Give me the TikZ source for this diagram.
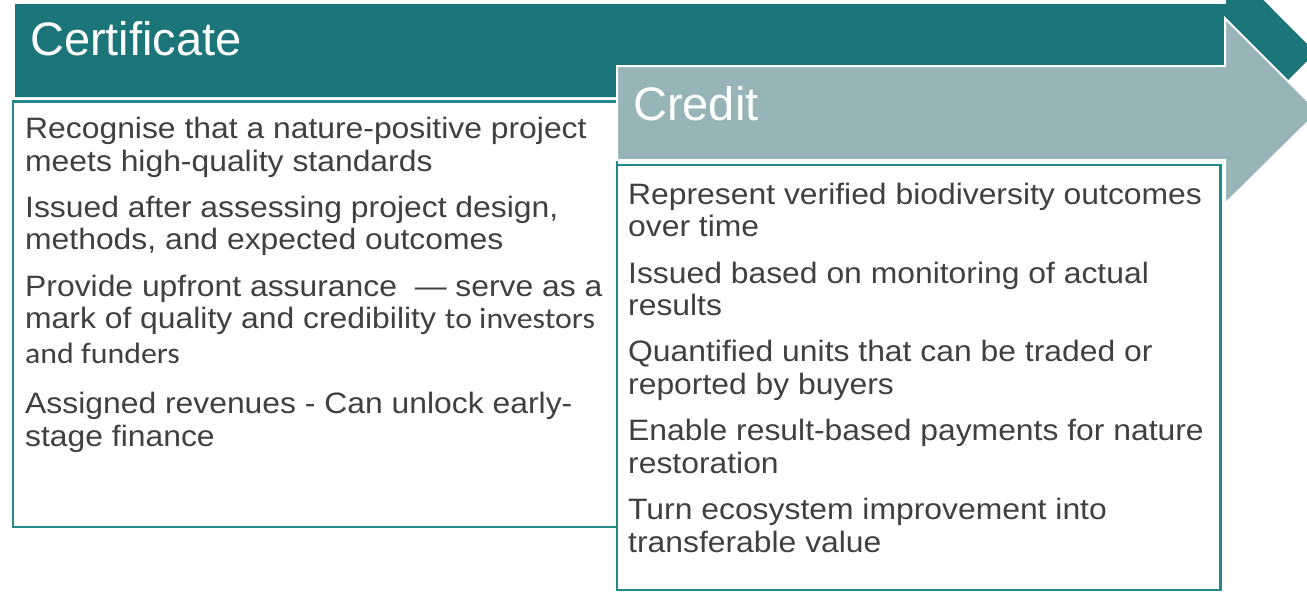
\documentclass[tikz,border=0pt]{standalone}
\usepackage{fontspec}
\setmainfont{Liberation Sans}
\newfontfamily\bodyfont[FakeStretch=1.08]{Liberation Sans}
\newfontfamily\calfont[FakeStretch=1.08]{Carlito}
\definecolor{darkteal}{HTML}{1B7579}
\definecolor{lightteal}{HTML}{97B5B8}
\definecolor{boxline}{HTML}{22898C}
\definecolor{bodytext}{HTML}{404040}
\newcommand{\itemlines}[1]{\vtop{\baselineskip=32.7pt\lineskiplimit=-100pt\halign{##\hfil\cr#1\crcr}}}
\tikzset{
  titletext/.style={anchor=base west, inner sep=0pt, text=white, font=\fontsize{47}{52}\selectfont},
  itemtext/.style={anchor=base west, inner sep=0pt, text=bodytext, font=\bodyfont\fontsize{29.5}{32.7}\selectfont},
  arrowshape/.style={line width=2pt, draw=white, line join=miter},
  contentbox/.style={fill=white, draw=boxline, line width=2.4pt}
}
\begin{document}
\begin{tikzpicture}[x=1pt,y=-1pt]
\useasboundingbox (0,0) rectangle (1307,592);
\clip (0,0) rectangle (1307,592);
% Certificate arrow
\fill[darkteal] (15,4) -- (1226,4) -- (1226,-37.5) -- (1315.5,52.5) -- (1226,142.5) -- (1226,97) -- (15,97) -- cycle;
% Certificate content box
\draw[contentbox] (13,101.5) rectangle (617,527);
% Credit arrow
\path[arrowshape, fill=lightteal] (617,66) -- (1225,66) -- (1225,18.3) -- (1318.4,111.7) -- (1225,204) -- (1225,160) -- (617,160) -- cycle;
% Credit content box
\draw[contentbox] (617,165) rectangle (1220.5,590);
% Titles
\node[titletext] (certtitle) at (30,55) {Certificate};
\node[titletext] (credtitle) at (633,120) {Credit};
% Certificate items
\node[itemtext] (ce1) at (25,138.3) {\itemlines{Recognise that a nature-positive project\cr meets high-quality standards}};
\node[itemtext] (ce2) at (25,217.2) {\itemlines{Issued after assessing project design,\cr methods, and expected outcomes}};
\node[itemtext] (ce3) at (25,296.1) {\itemlines{Provide upfront assurance\ \ — serve as a\cr mark of quality and credibility {\calfont to investors}\cr\noalign{\vskip 2.3pt} {\calfont and funders}}};
\node[itemtext] (ce4) at (25,413.7) {\itemlines{Assigned revenues - Can unlock early-\cr stage finance}};
% Credit items
\node[itemtext] (cr1) at (628,204) {\itemlines{Represent verified biodiversity outcomes\cr over time}};
\node[itemtext] (cr2) at (628,283) {\itemlines{Issued based on monitoring of actual\cr results}};
\node[itemtext] (cr3) at (628,361.9) {\itemlines{Quantified units that can be traded or\cr reported by buyers}};
\node[itemtext] (cr4) at (628,440.8) {\itemlines{Enable result-based payments for nature\cr restoration}};
\node[itemtext] (cr5) at (628,519.7) {\itemlines{Turn ecosystem improvement into\cr transferable value}};
\end{tikzpicture}
\end{document}
